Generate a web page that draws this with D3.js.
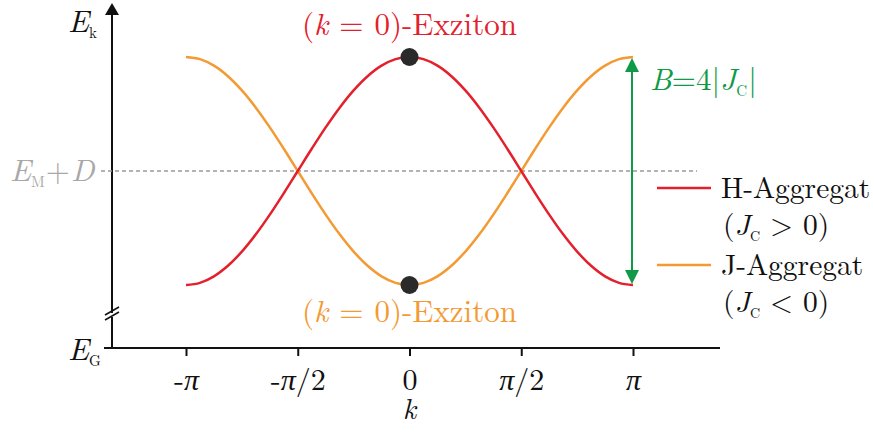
<!DOCTYPE html>
<html>
<head>
<meta charset="utf-8">
<script src="https://cdn.jsdelivr.net/npm/d3@7"></script>
<style>
  html, body { margin: 0; padding: 0; background: #fff; }
</style>
</head>
<body>
<svg id="chart" width="874" height="434"></svg>
<script>
// Wave vector k in units of π/16, from -π to π
const kSixteenths = [-16, -15, -14, -13, -12, -11, -10, -9, -8, -7, -6, -5, -4, -3, -2, -1, 0,
  1, 2, 3, 4, 5, 6, 7, 8, 9, 10, 11, 12, 13, 14, 15, 16];
// Band energy relative to E_M + D, in units of |J_C|
const hAggregat = [-2, -1.962, -1.848, -1.663, -1.414, -1.111, -0.765, -0.390, 0, 0.390, 0.765, 1.111, 1.414, 1.663, 1.848, 1.962, 2,
  1.962, 1.848, 1.663, 1.414, 1.111, 0.765, 0.390, 0, -0.390, -0.765, -1.111, -1.414, -1.663, -1.848, -1.962, -2];
const jAggregat = [2, 1.962, 1.848, 1.663, 1.414, 1.111, 0.765, 0.390, 0, -0.390, -0.765, -1.111, -1.414, -1.663, -1.848, -1.962, -2,
  -1.962, -1.848, -1.663, -1.414, -1.111, -0.765, -0.390, 0, 0.390, 0.765, 1.111, 1.414, 1.663, 1.848, 1.962, 2];
// Tick positions (units of π) and labels
const tickValues = [-1, -0.5, 0, 0.5, 1];
const tickLabels = ["-π", "-π/2", "0", "π/2", "π"];
const seriesNames = ["H-Aggregat", "J-Aggregat"];
const seriesConds = [">", "<"];

const RED = "#e3202b", ORANGE = "#f39a33", GREEN = "#109a48", INK = "#111";
const FONT = "Latin Modern Roman";

const svg = d3.select("#chart");
const x = d3.scaleLinear().domain([-1, 1]).range([186, 633]);
const y = d3.scaleLinear().domain([-2, 2]).range([285, 57]);
const axisY = 348, axisX = 112;

// x axis with downward ticks
const xAxis = d3.axisBottom(x).tickValues(tickValues).tickFormat((d, i) => tickLabels[i])
  .tickSize(8).tickSizeOuter(0);
const gx = svg.append("g").attr("transform", `translate(0,${axisY})`).call(xAxis);
gx.select(".domain").remove();
gx.selectAll(".tick line").attr("stroke", INK).attr("stroke-width", 2);
gx.selectAll(".tick text").attr("fill", INK).attr("font-size", 30).attr("dy", null).attr("y", 42)
  .each(function (d, i) {
    const t = d3.select(this).text("");
    const lab = tickLabels[i];
    if (lab === "0") t.append("tspan").text("0");
    else {
      const m = lab.match(/^(-?)π(\/2)?$/);
      if (m[1]) t.append("tspan").text("-");
      t.append("tspan").attr("font-style", "italic").text("π");
      if (m[2]) t.append("tspan").text("/2");
    }
  });
svg.append("line").attr("x1", 104).attr("x2", 720).attr("y1", axisY).attr("y2", axisY)
  .attr("stroke", INK).attr("stroke-width", 2);
svg.append("text").attr("x", x(0)).attr("y", 419).attr("text-anchor", "middle")
  .attr("font-size", 29).attr("font-style", "italic").attr("fill", INK).text("k");

// y axis with arrow and break marks
svg.append("line").attr("x1", axisX).attr("x2", axisX).attr("y1", axisY + 1).attr("y2", 12)
  .attr("stroke", INK).attr("stroke-width", 2);
svg.append("path").attr("d", `M${axisX},3 L${axisX - 7},15 L${axisX + 7},15 Z`).attr("fill", INK);
svg.append("rect").attr("x", axisX - 3).attr("y", 313).attr("width", 6).attr("height", 4).attr("fill", "#fff");
[0, 5].forEach(o => {
  svg.append("line").attr("x1", axisX - 7).attr("y1", 315 + o).attr("x2", axisX + 7).attr("y2", 307 + o)
    .attr("stroke", INK).attr("stroke-width", 1.6);
});

// axis labels
function energyLabel(xp, yp, sub, color) {
  const t = svg.append("text").attr("x", xp).attr("y", yp).attr("fill", color).attr("font-size", 31);
  t.append("tspan").attr("font-style", "italic").text("E");
  t.append("tspan").attr("font-size", 15).attr("dy", 6).attr("dx", 0).text(sub);
  return t;
}
energyLabel(68, 32, "k", INK);
energyLabel(68, 360, "G", INK);
const em = energyLabel(10, 181, "M", "#a8a8a8");
em.append("tspan").attr("dy", -6).attr("dx", 1).text("+");
em.append("tspan").attr("font-style", "italic").attr("dx", 1).text("D");

// reference level E_M + D
svg.append("line").attr("x1", 101).attr("x2", 697).attr("y1", y(0)).attr("y2", y(0))
  .attr("stroke", "#999").attr("stroke-width", 1.5).attr("stroke-dasharray", "4,3");

// dispersion curves
const pts = vals => kSixteenths.map((k, i) => [k / 16, vals[i]]);
const line = d3.line().x(d => x(d[0])).y(d => y(d[1])).curve(d3.curveCatmullRom.alpha(0.5));
svg.append("path").attr("d", line(pts(jAggregat))).attr("fill", "none").attr("stroke", ORANGE).attr("stroke-width", 2.5);
svg.append("path").attr("d", line(pts(hAggregat))).attr("fill", "none").attr("stroke", RED).attr("stroke-width", 2.5);

// k = 0 exciton states
const k0 = kSixteenths.indexOf(0);
[hAggregat[k0], jAggregat[k0]].forEach(v => {
  svg.append("circle").attr("cx", x(0)).attr("cy", y(v)).attr("r", 9).attr("fill", "#2a2a2a");
});
function excitonLabel(yp, color) {
  const t = svg.append("text").attr("x", x(0)).attr("y", yp).attr("text-anchor", "middle").attr("fill", color).attr("font-size", 31);
  t.append("tspan").text("(");
  t.append("tspan").attr("font-style", "italic").text("k");
  t.append("tspan").attr("dx", 11).text("=");
  t.append("tspan").attr("dx", 11).text("0)-Exziton");
}
excitonLabel(35, RED);
excitonLabel(322, ORANGE);

// bandwidth arrow B = 4|J_C|
const bx = x(1) - 1;
const yTop = y(d3.max(jAggregat)), yBot = y(d3.min(jAggregat));
svg.append("line").attr("x1", bx).attr("x2", bx).attr("y1", yTop + 10).attr("y2", yBot - 10)
  .attr("stroke", GREEN).attr("stroke-width", 2);
svg.append("path").attr("d", `M${bx},${yTop + 1} L${bx - 7},${yTop + 15} L${bx + 7},${yTop + 15} Z`).attr("fill", GREEN);
svg.append("path").attr("d", `M${bx},${yBot - 1} L${bx - 7},${yBot - 15} L${bx + 7},${yBot - 15} Z`).attr("fill", GREEN);
const bt = svg.append("text").attr("x", 650).attr("y", 90).attr("fill", GREEN).attr("font-size", 31);
bt.append("tspan").attr("font-style", "italic").text("B");
bt.append("tspan").text("=4|");
bt.append("tspan").attr("font-style", "italic").text("J");
bt.append("tspan").attr("font-size", 15).attr("dy", 6).text("C");
bt.append("tspan").attr("dy", -6).attr("dx", 1).text("|");

// legend
[RED, ORANGE].forEach((c, i) => {
  const yl = 188 + i * 77;
  svg.append("line").attr("x1", 657).attr("x2", 711).attr("y1", yl).attr("y2", yl).attr("stroke", c).attr("stroke-width", 2.5);
  svg.append("text").attr("x", 721).attr("y", yl + 10).attr("fill", INK).attr("font-size", 29.5).text(seriesNames[i]);
  const t = svg.append("text").attr("x", 723).attr("y", yl + 47).attr("fill", INK).attr("font-size", 29.5);
  t.append("tspan").text("(");
  t.append("tspan").attr("font-style", "italic").text("J");
  t.append("tspan").attr("font-size", 14).attr("dy", 6).text("C");
  t.append("tspan").attr("dy", -6).attr("dx", 10).text(seriesConds[i]);
  t.append("tspan").attr("dx", 10).text("0)");
});

// typeface for every label
svg.selectAll("text").style("font-family", `"${FONT}"`);
</script>
</body>
</html>
